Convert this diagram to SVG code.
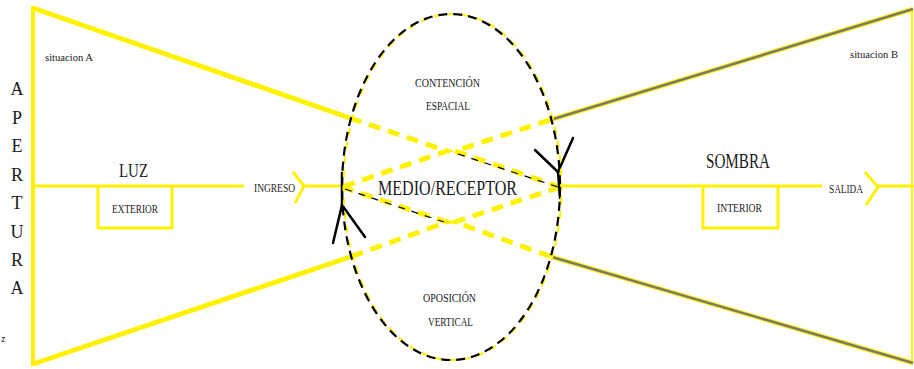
<svg xmlns="http://www.w3.org/2000/svg" width="914" height="369" viewBox="0 0 914 369">
<style>
.y{stroke:#FFF200;fill:none;stroke-linecap:butt}
.g{stroke:#7d7b68;fill:none;stroke-width:2.6}
.yd{stroke:#FFF200;fill:none;stroke-width:5;stroke-dasharray:12 8;stroke-linejoin:miter}
.kd{stroke:#000;fill:none;stroke-width:1.2;stroke-dasharray:7 7}
.k{stroke:#000;fill:none;stroke-width:2.5;stroke-linecap:round}
text{font-family:"Liberation Serif","Times New Roman",serif;fill:#1a1a1a}
.s{font-size:11px}
.m{font-size:13px}
</style>
<rect width="914" height="369" fill="#fff"/>
<g id="connectors">
  <!-- left frame -->
  <line class="y" x1="33" y1="6" x2="33" y2="366" stroke-width="4"/>
  <line class="y" x1="33" y1="8" x2="350" y2="118" stroke-width="5"/>
  <line class="y" x1="33" y1="364" x2="350" y2="257" stroke-width="5"/>
  <!-- right frame -->
  <line class="y" x1="912" y1="8" x2="912" y2="364" stroke-width="2"/>
  <line class="y" x1="913" y1="9" x2="550" y2="120" stroke-width="4.5"/>
  <line class="g" x1="913" y1="9" x2="550" y2="120"/>
  <line class="y" x1="913" y1="363" x2="552" y2="257" stroke-width="4.5"/>
  <line class="g" x1="913" y1="363" x2="552" y2="257"/>
  <!-- dashed inner diamond -->
  <polyline class="yd" points="350,118 447,151 342,187"/>
  <polyline class="yd" points="550,120 455,151 560,187"/>
  <polyline class="yd" points="342,187 447,222 350,257"/>
  <polyline class="yd" points="560,187 455,222 552,257"/>
  <line class="kd" x1="458" y1="154" x2="558" y2="187"/>
  <line class="kd" x1="345" y1="189" x2="444" y2="222"/>
  <!-- horizontal axis -->
  <line class="y" x1="33" y1="186" x2="244" y2="186" stroke-width="3"/>
  <line class="y" x1="303" y1="186" x2="342" y2="186" stroke-width="3"/>
  <polyline class="y" points="293,172 304,186 295,203" stroke-width="3"/>
  <line class="y" x1="560" y1="186" x2="822" y2="186" stroke-width="3"/>
  <line class="y" x1="877" y1="186" x2="914" y2="186" stroke-width="3"/>
  <polyline class="y" points="865,172 878,187 866,205" stroke-width="3"/>
  <!-- black arrows -->
  <line class="k" x1="342" y1="173" x2="342" y2="205"/>
  <line class="k" x1="342" y1="205" x2="333" y2="243"/>
  <line class="k" x1="342" y1="205" x2="365" y2="237"/>
  <line class="k" x1="535" y1="150" x2="558" y2="172"/>
  <line class="k" x1="573" y1="138" x2="558" y2="172"/>
  <line class="k" x1="558" y1="172" x2="560" y2="198"/>
</g>
<g id="apertura">
  <text x="17" y="95" font-size="18" text-anchor="middle">A</text>
  <text x="17" y="124" font-size="18" text-anchor="middle">P</text>
  <text x="17" y="152" font-size="18" text-anchor="middle">E</text>
  <text x="17" y="181" font-size="18" text-anchor="middle">R</text>
  <text x="17" y="209" font-size="18" text-anchor="middle">T</text>
  <text x="17" y="238" font-size="18" text-anchor="middle">U</text>
  <text x="17" y="266" font-size="18" text-anchor="middle">R</text>
  <text x="17" y="294" font-size="18" text-anchor="middle">A</text>
  <text x="1" y="342" font-size="9" style="font-family:'Liberation Sans',Arial,sans-serif" fill="#000">z</text>
</g>
<g id="situacion-a">
  <text class="s" x="45" y="61" textLength="48" lengthAdjust="spacingAndGlyphs">situacion A</text>
</g>
<g id="luz">
  <text x="119" y="177" font-size="18" textLength="29" lengthAdjust="spacingAndGlyphs">LUZ</text>
  <polyline class="y" points="98,186 98,228 172,228 172,186" stroke-width="3"/>
  <text class="m" x="112" y="213" textLength="46" lengthAdjust="spacingAndGlyphs">EXTERIOR</text>
  <text class="m" x="254" y="192" textLength="41" lengthAdjust="spacingAndGlyphs">INGRESO</text>
</g>
<g id="medio">
  <ellipse cx="452.5" cy="187" rx="109" ry="173" fill="none" stroke="#FFF200" stroke-width="2" stroke-dasharray="8 6" stroke-dashoffset="4"/>
  <ellipse cx="451" cy="187" rx="109" ry="173" fill="none" stroke="#000" stroke-width="2.2" stroke-dasharray="9 6"/>
  <text x="378" y="195" font-size="21" textLength="139" lengthAdjust="spacingAndGlyphs">MEDIO/RECEPTOR</text>
  <text class="m" x="415" y="87" textLength="65" lengthAdjust="spacingAndGlyphs">CONTENCIÓN</text>
  <text class="m" x="426" y="110" textLength="44" lengthAdjust="spacingAndGlyphs">ESPACIAL</text>
  <text class="m" x="423" y="302" textLength="53" lengthAdjust="spacingAndGlyphs">OPOSICIÓN</text>
  <text class="m" x="428" y="326" textLength="45" lengthAdjust="spacingAndGlyphs">VERTICAL</text>
</g>
<g id="sombra">
  <text x="706" y="168" font-size="20" textLength="64" lengthAdjust="spacingAndGlyphs">SOMBRA</text>
  <polyline class="y" points="703,186 703,228 778,228 778,186" stroke-width="3"/>
  <text class="m" x="717" y="212" textLength="45" lengthAdjust="spacingAndGlyphs">INTERIOR</text>
  <text class="m" x="829" y="193" textLength="34" lengthAdjust="spacingAndGlyphs">SALIDA</text>
</g>
<g id="situacion-b">
  <text class="s" x="850" y="58" textLength="48" lengthAdjust="spacingAndGlyphs">situacion B</text>
</g>
</svg>
